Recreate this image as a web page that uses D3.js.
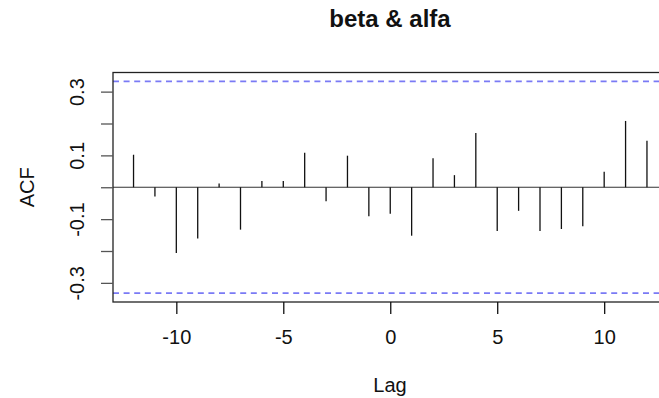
<!DOCTYPE html>
<html>
<head>
<meta charset="utf-8">
<script src="https://cdn.jsdelivr.net/npm/d3@7"></script>
<style>
  body { margin: 0; background: #fff; }
  svg { display: block; font-family: "Liberation Sans", Arial, sans-serif; }
</style>
</head>
<body>
<div id="chart"></div>
<script>
const lags = [-12, -11, -10, -9, -8, -7, -6, -5, -4, -3, -2, -1, 0, 1, 2, 3, 4, 5, 6, 7, 8, 9, 10, 11, 12];
const acfValues = [0.102, -0.029, -0.206, -0.161, 0.012, -0.133, 0.020, 0.020, 0.108, -0.044,
    0.099, -0.091, -0.083, -0.152, 0.091, 0.038, 0.170, -0.137, -0.074, -0.137, -0.131, -0.122,
    0.049, 0.208, 0.146];
const ciLimit = 0.332;
const xTicks = [-10, -5, 0, 5, 10];
const yTicks = [-0.3, -0.2, -0.1, 0, 0.1, 0.2, 0.3];
const yLabelled = ["-0.3", "-0.1", "0.1", "0.3"];

const width = 659;
const height = 398;
const plot = { left: 113, right: 667.5, top: 72.5, bottom: 302 };

// R style labels: plain hyphen minus
const fmtX = d => String(d);
const fmtY = d => d.toFixed(1).replace("-0.0", "0.0");

const svg = d3.select('#chart')
    .append('svg')
    .attr('width', width)
    .attr('height', height);

const x = d3.scaleLinear()
    .domain([-12.96, 12.96])
    .range([plot.left, plot.right]);

const y = d3.scaleLinear()
    .domain([-0.36, 0.36])
    .range([plot.bottom, plot.top]);

// zero line
svg.append("line")
    .attr("x1", plot.left).attr("x2", plot.right)
    .attr("y1", y(0)).attr("y2", y(0))
    .attr("stroke", "#333").attr("stroke-width", 1.2);

// confidence limits
svg.append("g")
    .selectAll("line")
    .data([ciLimit, -ciLimit])
    .join("line")
    .attr("x1", plot.left).attr("x2", plot.right)
    .attr("y1", d => y(d)).attr("y2", d => y(d))
    .attr("stroke", "#7a7af5")
    .attr("stroke-width", 1.8)
    .attr("stroke-dasharray", "6,4.6");

// spikes
svg.append("g")
    .attr("stroke", "#111")
    .attr("stroke-width", 1.3)
    .selectAll("line")
    .data(lags.map((l, i) => ({ lag: l, acf: acfValues[i] })))
    .join("line")
    .attr("x1", d => x(d.lag)).attr("x2", d => x(d.lag))
    .attr("y1", y(0)).attr("y2", d => y(d.acf));

// box
svg.append("rect")
    .attr("x", plot.left).attr("y", plot.top)
    .attr("width", plot.right - plot.left)
    .attr("height", plot.bottom - plot.top)
    .attr("fill", "none")
    .attr("stroke", "#222").attr("stroke-width", 1.3);

function xAxis(g) {
    g.attr("transform", `translate(0,${plot.bottom})`)
        .call(d3.axisBottom(x).tickValues(xTicks).tickSize(12).tickPadding(16).tickFormat(fmtX))
        .attr("font-size", "20px")
        .attr("font-family", null);
    g.select(".domain").remove();
    g.selectAll(".tick line").attr("stroke", "#111").attr("stroke-width", 1.3);
    g.selectAll("text").attr("fill", "#111");
}

function yAxis(g) {
    g.attr("transform", `translate(${plot.left},0)`)
        .call(d3.axisLeft(y).tickValues(yTicks).tickSize(12)
            .tickFormat(d => yLabelled.includes(fmtY(d)) ? fmtY(d) : ""))
        .attr("font-size", "20px")
        .attr("font-family", null);
    g.select(".domain").remove();
    g.selectAll(".tick line").attr("stroke", "#555").attr("stroke-width", 1.3);
    g.selectAll("text")
        .attr("fill", "#111")
        .attr("x", null).attr("dy", null)
        .attr("text-anchor", "middle")
        .attr("transform", "translate(-29.5,0) rotate(-90)");
}

svg.append("g").call(xAxis);
svg.append("g").call(yAxis);

svg.append("text")
    .attr("x", 390).attr("y", 27)
    .attr("text-anchor", "middle")
    .attr("font-size", "24px")
    .attr("font-weight", "bold")
    .attr("fill", "#111")
    .text("beta & alfa");

svg.append("text")
    .attr("x", 390).attr("y", 392)
    .attr("text-anchor", "middle")
    .attr("font-size", "20px")
    .attr("fill", "#111")
    .text("Lag");

svg.append("text")
    .attr("transform", `translate(33.5,${y(0)}) rotate(-90)`)
    .attr("text-anchor", "middle")
    .attr("font-size", "20px")
    .attr("fill", "#111")
    .text("ACF");
</script>
</body>
</html>
